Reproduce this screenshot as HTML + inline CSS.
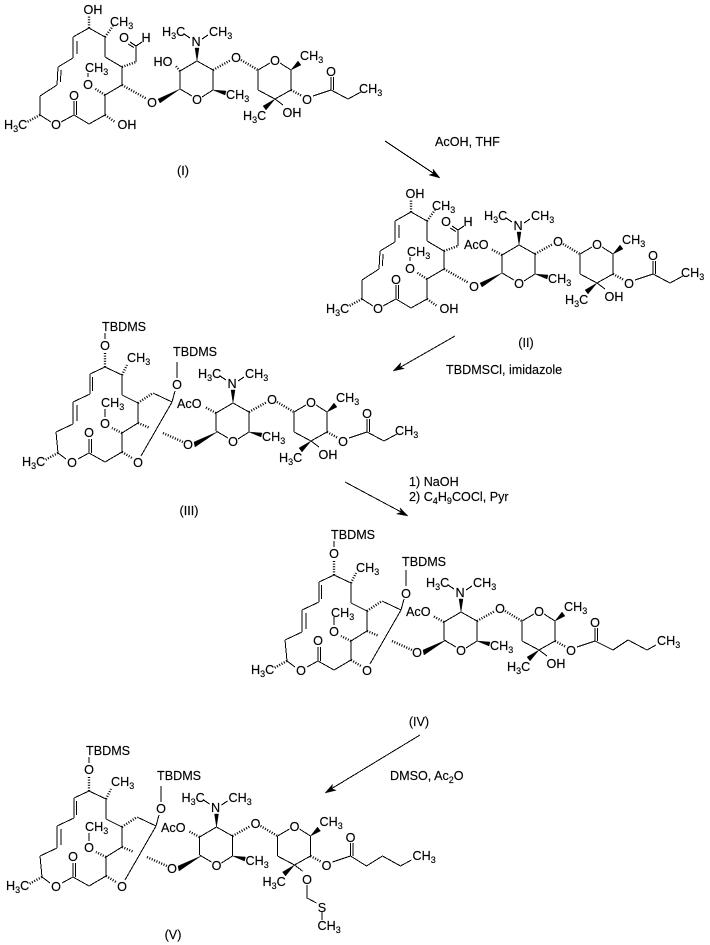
<!DOCTYPE html>
<html><head><meta charset="utf-8"><style>
html,body{margin:0;padding:0;background:#fff}
svg{display:block}
text{font-family:"Liberation Sans",Arial,sans-serif;font-size:12.6px;fill:#000;stroke:#000;stroke-width:.15}
.m{text-anchor:middle}
.b{fill:none;stroke:#000;stroke-width:1;shape-rendering:crispEdges}
.h{fill:none;stroke:#000;stroke-width:2.4;stroke-dasharray:1 1.6}
.w{fill:#000;stroke:#000;stroke-width:.4}
tspan.s{font-size:9px}
</style></head><body>
<svg width="710" height="945" viewBox="0 0 710 945" xmlns="http://www.w3.org/2000/svg">
<defs>
<g id="sugar">
<path class="b" d="M180 71L180 89M180 71L197 61M197 61L213 70M213 70L213 90M213 90L202 97M192 96L180 89M202 39L208 35M184 34L190 38M258 70L270 63M280 63L291 70M291 70L291 90M313 96L331 90M331 90L331 77M333.5 90L333.5 77M291 90L275 99M275 99L283 105M275 99L258 90M258 90L258 70"/>
<path class="h" d="M213 70L231 60M241 60L258 70M291 90L302 96"/>
<polygon class="w" points="197,61 195,48 199,48"/>
<polygon class="w" points="213,90 226,91 225,95"/>
<polygon class="w" points="291,70 298,61 301,65"/>
<polygon class="w" points="275,99 263,106 266,110"/>
</g>
<g id="ring1">
<path class="b" d="M89 28L105 37M105 37L105 57M105 57L122 67M122 67L122 85M136 62L136 46M136 46L130 42M134 47.5L128 44M136 46L142 42M122 85L105 95M88 77L88 73M105 95L105 115M105 115L89 124M89 124L74 115M74 115L74 101M76.5 115L76.5 101M74 115L61 122M51 122L40 115M40 115L40 96M40 96L57 85M57 85L58 67M60.5 82L61 70M58 67L73 58M73 58L73 37M77 54L77 41M73 37L89 28"/>
<path class="h" d="M89 28L89 16M105 37L113 26M122 67L136 62M122 85L147 99M105 95L94 88M105 115L115 122M40 115L27 122"/>
<polygon class="w" points="180,89 158,99 160,103"/>
</g>
<g id="ring3">
<path class="b" d="M105 367L122 375M122 375L122 395M122 395L138 403M153 393L172 402M138 403L138 423M172 402L175 391M177 378L177 362M105 333L105 339M172 402L141 456M138 423L122 433M105 417L105 409M122 433L122 452M122 452L105 462M105 462L89 453M89 453L89 439M91.5 453L91.5 439M89 453L78 459M66 459L58 453M58 453L56 432M56 432L73 424M73 424L73 402M77 421L77 405M73 402L90 394M90 394L90 374M92.5 391L92.5 377M90 374L105 367"/>
<path class="h" d="M105 367L105 352M122 375L127 365M138 403L153 393M138 423L150 428M122 433L112 428M122 452L132 458M58 453L45 460M163 433L183 442"/>
<polygon class="w" points="217,432 194,442 195,447"/>
</g>
</defs>

<!-- I -->
<use href="#ring1"/><use href="#sugar"/>
<path class="b" d="M331 90L348 99L361 92"/>
<path class="h" d="M180 71L175 65"/>
<text x="93" y="14" class="m">OH</text>
<text x="110" y="26">CH<tspan class="s" dy="3">3</tspan></text>
<text x="124" y="42" class="m">O</text>
<text x="146" y="42" class="m">H</text>
<text x="85" y="72">CH<tspan class="s" dy="3">3</tspan></text>
<text x="88" y="89" class="m">O</text>
<text x="74" y="100" class="m">O</text>
<text x="56" y="129" class="m">O</text>
<text x="127" y="129" class="m">OH</text>
<text x="4" y="129">H<tspan class="s" dy="3">3</tspan><tspan dy="-3">C</tspan></text>
<text x="152" y="107" class="m">O</text>
<text x="163" y="66" class="m">HO</text>
<text x="162" y="36">H<tspan class="s" dy="3">3</tspan><tspan dy="-3">C</tspan></text>
<text x="196" y="46" class="m">N</text>
<text x="209" y="36">CH<tspan class="s" dy="3">3</tspan></text>
<text x="197" y="104" class="m">O</text>
<text x="226" y="99">CH<tspan class="s" dy="3">3</tspan></text>
<text x="236" y="62" class="m">O</text>
<text x="275" y="65" class="m">O</text>
<text x="300" y="60">CH<tspan class="s" dy="3">3</tspan></text>
<text x="307" y="104" class="m">O</text>
<text x="331" y="76" class="m">O</text>
<text x="359" y="93">CH<tspan class="s" dy="3">3</tspan></text>
<text x="243" y="120">H<tspan class="s" dy="3">3</tspan><tspan dy="-3">C</tspan></text>
<text x="292" y="117" class="m">OH</text>
<text x="183" y="175" class="m">(I)</text>

<!-- II -->
<g transform="translate(322 184)">
<use href="#ring1"/><use href="#sugar"/>
<path class="b" d="M331 90L348 99L361 92"/>
<path class="h" d="M180 71L169 65"/>
<text x="93" y="14" class="m">OH</text>
<text x="110" y="26">CH<tspan class="s" dy="3">3</tspan></text>
<text x="124" y="42" class="m">O</text>
<text x="146" y="42" class="m">H</text>
<text x="85" y="72">CH<tspan class="s" dy="3">3</tspan></text>
<text x="88" y="89" class="m">O</text>
<text x="74" y="100" class="m">O</text>
<text x="56" y="129" class="m">O</text>
<text x="127" y="129" class="m">OH</text>
<text x="4" y="129">H<tspan class="s" dy="3">3</tspan><tspan dy="-3">C</tspan></text>
<text x="152" y="107" class="m">O</text>
<text x="142" y="65">AcO</text>
<text x="162" y="36">H<tspan class="s" dy="3">3</tspan><tspan dy="-3">C</tspan></text>
<text x="196" y="46" class="m">N</text>
<text x="209" y="36">CH<tspan class="s" dy="3">3</tspan></text>
<text x="197" y="104" class="m">O</text>
<text x="226" y="99">CH<tspan class="s" dy="3">3</tspan></text>
<text x="236" y="62" class="m">O</text>
<text x="275" y="65" class="m">O</text>
<text x="300" y="60">CH<tspan class="s" dy="3">3</tspan></text>
<text x="307" y="104" class="m">O</text>
<text x="331" y="76" class="m">O</text>
<text x="359" y="93">CH<tspan class="s" dy="3">3</tspan></text>
<text x="243" y="120">H<tspan class="s" dy="3">3</tspan><tspan dy="-3">C</tspan></text>
<text x="292" y="117" class="m">OH</text>
</g>
<text x="526" y="347" class="m">(II)</text>

<!-- III -->
<use href="#ring3"/>
<text x="102" y="331">TBDMS</text>
<text x="105" y="350" class="m">O</text>
<text x="127" y="362">CH<tspan class="s" dy="3">3</tspan></text>
<text x="173" y="356">TBDMS</text>
<text x="177" y="389" class="m">O</text>
<text x="177" y="408">AcO</text>
<text x="101" y="407">CH<tspan class="s" dy="3">3</tspan></text>
<text x="105" y="428" class="m">O</text>
<text x="89" y="437" class="m">O</text>
<text x="72" y="467" class="m">O</text>
<text x="138" y="467" class="m">O</text>
<text x="188" y="449" class="m">O</text>
<text x="22" y="466">H<tspan class="s" dy="3">3</tspan><tspan dy="-3">C</tspan></text>
<text x="189" y="515" class="m">(III)</text>
<g transform="translate(36 342)">
<use href="#sugar"/>
<path class="b" d="M331 90L348 99L361 92"/>
<path class="h" d="M180 71L169 65"/>
<text x="162" y="36">H<tspan class="s" dy="3">3</tspan><tspan dy="-3">C</tspan></text>
<text x="196" y="46" class="m">N</text>
<text x="209" y="36">CH<tspan class="s" dy="3">3</tspan></text>
<text x="197" y="104" class="m">O</text>
<text x="226" y="99">CH<tspan class="s" dy="3">3</tspan></text>
<text x="236" y="62" class="m">O</text>
<text x="275" y="65" class="m">O</text>
<text x="300" y="60">CH<tspan class="s" dy="3">3</tspan></text>
<text x="307" y="104" class="m">O</text>
<text x="331" y="76" class="m">O</text>
<text x="359" y="93">CH<tspan class="s" dy="3">3</tspan></text>
<text x="243" y="120">H<tspan class="s" dy="3">3</tspan><tspan dy="-3">C</tspan></text>
<text x="292" y="117" class="m">OH</text>
</g>

<!-- IV -->
<g transform="translate(229 208)">
<use href="#ring3"/>
<text x="102" y="331">TBDMS</text>
<text x="105" y="350" class="m">O</text>
<text x="127" y="364">CH<tspan class="s" dy="3">3</tspan></text>
<text x="173" y="358">TBDMS</text>
<text x="177" y="390" class="m">O</text>
<text x="177" y="408">AcO</text>
<text x="102" y="409">CH<tspan class="s" dy="3">3</tspan></text>
<text x="105" y="428" class="m">O</text>
<text x="89" y="437" class="m">O</text>
<text x="72" y="467" class="m">O</text>
<text x="138" y="467" class="m">O</text>
<text x="188" y="449" class="m">O</text>
<text x="22" y="466">H<tspan class="s" dy="3">3</tspan><tspan dy="-3">C</tspan></text>
</g>
<g transform="translate(264 551)">
<use href="#sugar"/>
<path class="b" d="M331 90L349 99L364 89L383 99L392 94"/>
<path class="h" d="M180 71L169 65"/>
<text x="162" y="36">H<tspan class="s" dy="3">3</tspan><tspan dy="-3">C</tspan></text>
<text x="196" y="46" class="m">N</text>
<text x="209" y="36">CH<tspan class="s" dy="3">3</tspan></text>
<text x="197" y="104" class="m">O</text>
<text x="226" y="99">CH<tspan class="s" dy="3">3</tspan></text>
<text x="236" y="62" class="m">O</text>
<text x="275" y="65" class="m">O</text>
<text x="300" y="60">CH<tspan class="s" dy="3">3</tspan></text>
<text x="307" y="104" class="m">O</text>
<text x="331" y="76" class="m">O</text>
<text x="393" y="94">CH<tspan class="s" dy="3">3</tspan></text>
<text x="243" y="120">H<tspan class="s" dy="3">3</tspan><tspan dy="-3">C</tspan></text>
<text x="292" y="117" class="m">OH</text>
</g>
<text x="419" y="726" class="m">(IV)</text>

<!-- V -->
<g transform="translate(-16 424)">
<use href="#ring3"/>
<text x="102" y="331">TBDMS</text>
<text x="105" y="350" class="m">O</text>
<text x="127" y="362">CH<tspan class="s" dy="3">3</tspan></text>
<text x="173" y="356">TBDMS</text>
<text x="177" y="389" class="m">O</text>
<text x="177" y="408">AcO</text>
<text x="101" y="407">CH<tspan class="s" dy="3">3</tspan></text>
<text x="105" y="428" class="m">O</text>
<text x="89" y="437" class="m">O</text>
<text x="72" y="467" class="m">O</text>
<text x="138" y="467" class="m">O</text>
<text x="188" y="449" class="m">O</text>
<text x="22" y="466">H<tspan class="s" dy="3">3</tspan><tspan dy="-3">C</tspan></text>
</g>
<g transform="translate(19.5 766)">
<use href="#sugar"/>
<path class="b" d="M331 90L347 100L363 90L381 100L392 94M287.5 119L287.5 132L297 137M302.5 146L302.5 154"/>
<path class="h" d="M180 71L169 65"/>
<text x="162" y="36">H<tspan class="s" dy="3">3</tspan><tspan dy="-3">C</tspan></text>
<text x="196" y="46" class="m">N</text>
<text x="209" y="36">CH<tspan class="s" dy="3">3</tspan></text>
<text x="197" y="104" class="m">O</text>
<text x="226" y="99">CH<tspan class="s" dy="3">3</tspan></text>
<text x="236" y="62" class="m">O</text>
<text x="275" y="65" class="m">O</text>
<text x="300" y="60">CH<tspan class="s" dy="3">3</tspan></text>
<text x="307" y="104" class="m">O</text>
<text x="331" y="76" class="m">O</text>
<text x="393" y="94">CH<tspan class="s" dy="3">3</tspan></text>
<text x="243" y="120">H<tspan class="s" dy="3">3</tspan><tspan dy="-3">C</tspan></text>
<text x="287.5" y="118" class="m">O</text>
<text x="302.5" y="146" class="m">S</text>
<text x="298" y="164">CH<tspan class="s" dy="3">3</tspan></text>
</g>
<text x="173" y="939" class="m">(V)</text>

<!-- arrows -->
<path class="b" d="M385 141L436 175M455 336L399 368M345 482L403 513M420 735L331 789"/>
<polygon class="w" points="440,178 429,175 433.4,173.5 433,169"/>
<polygon class="w" points="393,371 404.3,368.6 400,367 400.9,362.6"/>
<polygon class="w" points="408,516 396.6,513.9 401,512.2 400,507.7"/>
<polygon class="w" points="325,793 336.2,790.3 331.8,788.8 332.6,784.3"/>

<!-- reagents -->
<text x="435" y="146">AcOH, THF</text>
<text x="446" y="374">TBDMSCl, imidazole</text>
<text x="409" y="486">1) NaOH</text>
<text x="409" y="501">2) C<tspan class="s" dy="3">4</tspan><tspan dy="-3">H</tspan><tspan class="s" dy="3">9</tspan><tspan dy="-3">COCl, Pyr</tspan></text>
<text x="390" y="780">DMSO, Ac<tspan class="s" dy="3">2</tspan><tspan dy="-3">O</tspan></text>
</svg>
</body></html>
